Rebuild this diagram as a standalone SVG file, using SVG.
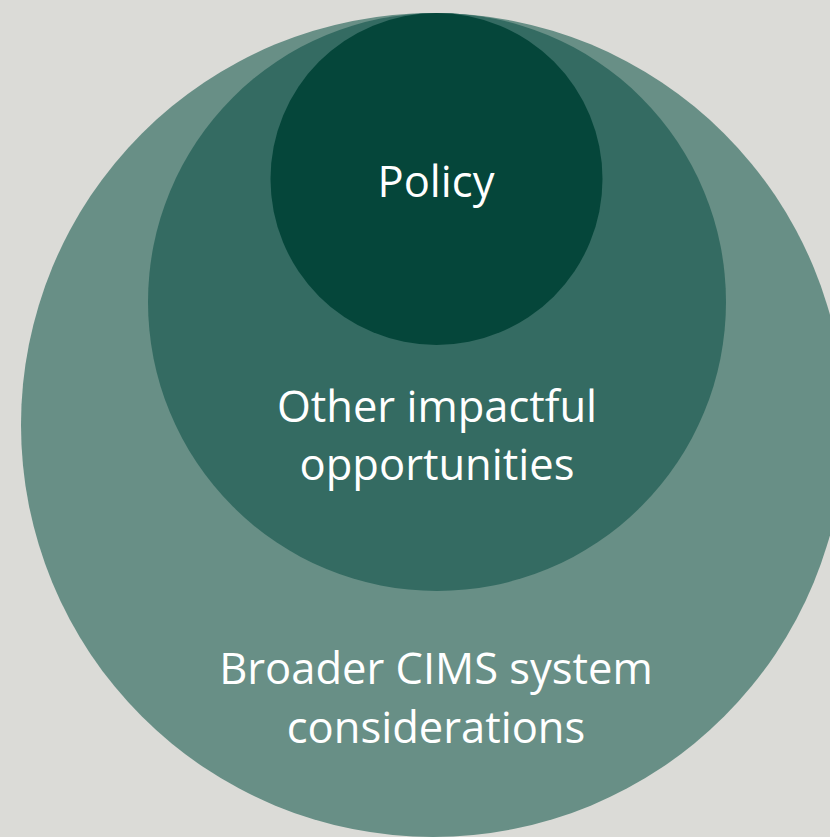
<svg xmlns="http://www.w3.org/2000/svg" width="830" height="837" viewBox="0 0 830 837">
<style>
.lbl{font-family:"Open Sans","Liberation Sans",sans-serif;font-size:43.5px;fill:#ffffff;text-anchor:middle}
</style>
<rect width="830" height="837" fill="#dbdbd7"/>
<g id="outer">
<circle cx="433" cy="425" r="412" fill="#688f86"/>
<text class="lbl" x="436" y="684">Broader CIMS system</text>
<text class="lbl" x="436" y="743">considerations</text>
</g>
<g id="middle">
<circle cx="437" cy="302" r="289" fill="#346b62"/>
<text class="lbl" x="437" y="422">Other impactful</text>
<text class="lbl" x="437" y="480">opportunities</text>
</g>
<g id="inner">
<circle cx="436.5" cy="179" r="166" fill="#05463a"/>
<text class="lbl" x="436" y="197">Policy</text>
</g>
<g id="connectors"/>
</svg>
